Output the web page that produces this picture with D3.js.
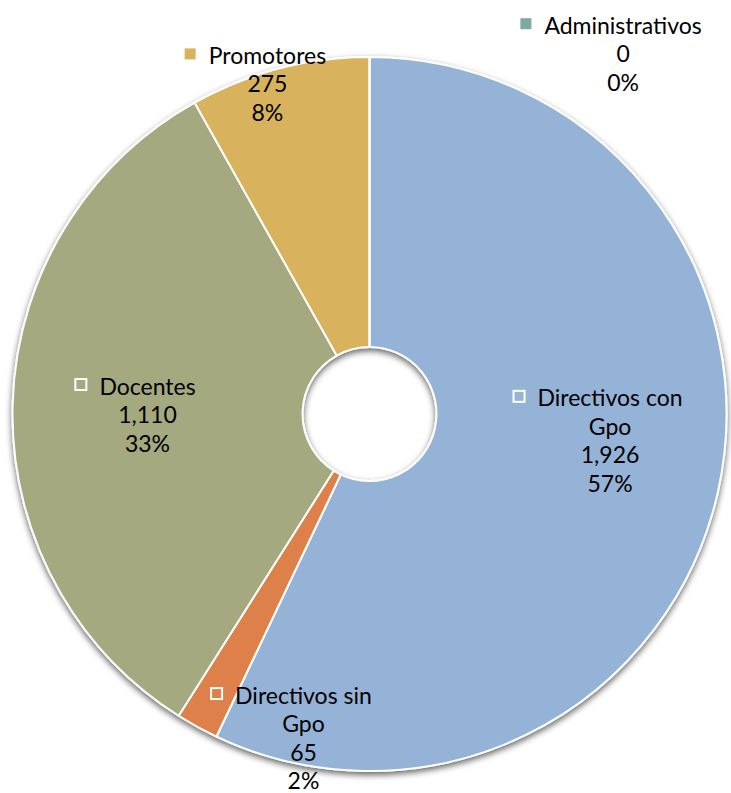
<!DOCTYPE html>
<html><head><meta charset="utf-8">
<script src="https://cdn.jsdelivr.net/npm/d3@7"></script>
<style>html,body{margin:0;padding:0;background:#fff}svg{display:block}</style>
</head><body>
<svg id="chart" width="731" height="793"></svg>
<script>
const categories = ["Directivos con Gpo", "Directivos sin Gpo", "Docentes", "Promotores", "Administrativos"];
const values = [1926, 65, 1110, 275, 0];
const labelLines = [["Directivos con", "Gpo"], ["Directivos sin", "Gpo"], ["Docentes"], ["Promotores"], ["Administrativos"]];
const colors = ["#95B3D7", "#DE8048", "#A4A97F", "#D8B25D", "#7EA99F"];

// label placement (polar, relative to slice mid-angle) and marker style
const labelRadius = [242, 330, 222, 346, 441];
const labelAngleShift = [-6.5, -17.3, -1.5, -2.5, 35.1];
const markerFilled = [false, false, false, true, true];

const W = 731, H = 793;
const cx = 369.5, cy = 414, rOuter = 357, rInner = 67;
const svg = d3.select("#chart");
const defs = svg.append("defs");
const f = defs.append("filter").attr("id", "shadow").attr("x", "-10%").attr("y", "-10%").attr("width", "120%").attr("height", "120%");
f.append("feDropShadow").attr("dx", 0).attr("dy", 3).attr("stdDeviation", 3).attr("flood-color", "#000").attr("flood-opacity", 0.6);

const data = categories.map((c, i) => ({name: c, value: values[i], i}));
const total = d3.sum(values);
const pie = d3.pie().value(d => d.value).sort(null);
const arcs = pie(data);
const arc = d3.arc().innerRadius(rInner).outerRadius(rOuter);
const color = d3.scaleOrdinal().domain(categories).range(colors);

const g = svg.append("g").attr("transform", `translate(${cx},${cy})`);
g.append("g").attr("filter", "url(#shadow)")
  .selectAll("path").data(arcs).join("path")
  .attr("d", arc)
  .attr("fill", d => color(d.data.name))
  .attr("stroke", "#fff").attr("stroke-width", 2).attr("stroke-linejoin", "round");

const fmt = d3.format(",");
const pct = d3.format(".0%");
const fontSize = 23, lineH = 28.5;
const labels = g.append("g").attr("font-family", "Lato, 'Noto Sans', sans-serif").attr("font-size", fontSize).attr("fill", "#000");
arcs.forEach((a, i) => {
  const mid = (a.startAngle + a.endAngle) / 2 + labelAngleShift[i] * Math.PI / 180;
  const r = labelRadius[i];
  const x = Math.sin(mid) * r, y = -Math.cos(mid) * r;
  const lines = labelLines[i].concat([fmt(values[i]), pct(values[i] / total)]);
  const n = lines.length;
  const y0 = y - (n - 1) * lineH / 2;
  const lg = labels.append("g");
  lines.forEach((t, k) => {
    const tx = lg.append("text").attr("x", x).attr("y", y0 + k * lineH)
      .attr("text-anchor", "middle").attr("dominant-baseline", "central").text(t);
    if (k === 0) {
      const w = tx.node().getComputedTextLength();
      const sx = x - w / 2 - 24, s = 11;
      lg.append("rect").attr("x", sx).attr("y", y0 - s / 2 - 1).attr("width", s).attr("height", s)
        .attr("fill", markerFilled[i] ? color(a.data.name) : "none")
        .attr("stroke", markerFilled[i] ? "none" : "#fff").attr("stroke-width", 2);
    }
  });
});
</script>
</body></html>
